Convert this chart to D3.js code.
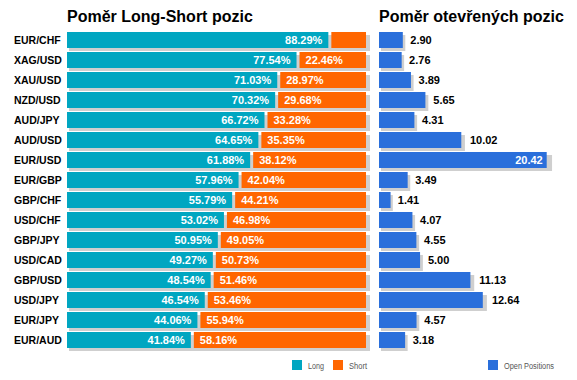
<!DOCTYPE html>
<html>
<head>
<meta charset="utf-8">
<script src="https://cdn.jsdelivr.net/npm/d3@7"></script>
<style>
  body { margin: 0; background: #fff; }
  svg { display: block; font-family: Arial, "Liberation Sans", sans-serif; }
</style>
</head>
<body>
<svg id="chart" width="577" height="380"></svg>
<script>
const pairs = ["EUR/CHF","XAG/USD","XAU/USD","NZD/USD","AUD/JPY","AUD/USD","EUR/USD","EUR/GBP","GBP/CHF","USD/CHF","GBP/JPY","USD/CAD","GBP/USD","USD/JPY","EUR/JPY","EUR/AUD"];
const longPct = [88.29,77.54,71.03,70.32,66.72,64.65,61.88,57.96,55.79,53.02,50.95,49.27,48.54,46.54,44.06,41.84];
const shortPct = [11.71,22.46,28.97,29.68,33.28,35.35,38.12,42.04,44.21,46.98,49.05,50.73,51.46,53.46,55.94,58.16];
const openPos = [2.90,2.76,3.89,5.65,4.31,10.02,20.42,3.49,1.41,4.07,4.55,5.00,11.13,12.64,4.57,3.18];
const legendLeft = ["Long","Short"];
const legendRight = ["Open Positions"];

const C_LONG = "#00A6C1", C_SHORT = "#FF6600", C_OPEN = "#2A6FDB", C_SHADOW = "#CFCFCF";

const svg = d3.select("#chart");

const y = d3.scaleBand().domain(pairs).range([30, 350]).paddingInner(0.2).paddingOuter(0.1);
const bh = y.bandwidth();
const xL = d3.scaleLinear().domain([0, 100]).range([0, 296]);
const x0L = 67, gap = 3;
const x0R = 379;
const xR = d3.scaleLinear().domain([0, 20.42]).range([0, 167.7]);

// Titles
svg.append("text").attr("x", x0L).attr("y", 22).attr("font-size", 16).attr("font-weight", "bold")
  .attr("fill", "#000").text("Poměr Long-Short pozic");
svg.append("text").attr("x", x0R).attr("y", 22).attr("font-size", 16).attr("font-weight", "bold")
  .attr("fill", "#000").text("Poměr otevřených pozic");

const rows = pairs.map((p, i) => ({ p, l: longPct[i], s: shortPct[i], o: openPos[i] }));

// Left shadows
svg.append("g").selectAll("rect").data(rows).join("rect")
  .attr("x", x0L + 2).attr("y", d => y(d.p) + 3)
  .attr("width", xL(100) + gap + 2).attr("height", bh)
  .attr("fill", C_SHADOW);

// long bars
svg.append("g").selectAll("rect").data(rows).join("rect")
  .attr("x", x0L).attr("y", d => y(d.p))
  .attr("width", d => xL(d.l)).attr("height", bh).attr("fill", C_LONG);
// short bars
svg.append("g").selectAll("rect").data(rows).join("rect")
  .attr("x", d => x0L + xL(d.l) + gap).attr("y", d => y(d.p))
  .attr("width", d => xL(d.s)).attr("height", bh).attr("fill", C_SHORT);

// category labels
svg.append("g").selectAll("text").data(rows).join("text")
  .attr("x", 14).attr("y", d => y(d.p) + bh / 2 + 4)
  .attr("font-size", 10.5).attr("font-weight", "bold").attr("fill", "#000")
  .text(d => d.p);

// long labels
svg.append("g").selectAll("text").data(rows).join("text")
  .attr("x", d => x0L + xL(d.l) - 6).attr("y", d => y(d.p) + bh / 2 + 4)
  .attr("text-anchor", "end").attr("font-size", 11).attr("font-weight", "bold").attr("fill", "#fff")
  .text(d => d.l.toFixed(2) + "%");
// short labels
svg.append("g").selectAll("text").data(rows.filter(d => xL(d.s) > 45)).join("text")
  .attr("x", d => x0L + xL(d.l) + gap + 6).attr("y", d => y(d.p) + bh / 2 + 4)
  .attr("font-size", 11).attr("font-weight", "bold").attr("fill", "#fff")
  .text(d => d.s.toFixed(2) + "%");

// Right shadows
svg.append("g").selectAll("rect").data(rows).join("rect")
  .attr("x", x0R + 2).attr("y", d => y(d.p) + 3)
  .attr("width", d => xR(d.o) * 1.02).attr("height", bh).attr("fill", C_SHADOW);
svg.append("g").selectAll("rect").data(rows).join("rect")
  .attr("x", x0R).attr("y", d => y(d.p))
  .attr("width", d => xR(d.o)).attr("height", bh).attr("fill", C_OPEN);

svg.append("g").selectAll("text").data(rows).join("text")
  .each(function(d) {
    const end = x0R + xR(d.o);
    const inside = end + 40 > 560;
    d3.select(this)
      .attr("x", inside ? end - 4 : x0R + 2 + xR(d.o) * 1.02 + 5)
      .attr("text-anchor", inside ? "end" : "start")
      .attr("fill", inside ? "#fff" : "#000");
  })
  .attr("y", d => y(d.p) + bh / 2 + 4)
  .attr("font-size", 11).attr("font-weight", "bold")
  .text(d => d.o.toFixed(2));

// Legends
const lg = [
  { t: legendLeft[0], c: C_LONG, x: 292, w: 16 },
  { t: legendLeft[1], c: C_SHORT, x: 333, w: 18 },
  { t: legendRight[0], c: C_OPEN, x: 488, w: 50 }
];
const g = svg.append("g");
g.selectAll("rect").data(lg).join("rect")
  .attr("x", d => d.x).attr("y", 360).attr("width", 10).attr("height", 10).attr("fill", d => d.c);
g.selectAll("text").data(lg).join("text")
  .attr("x", d => d.x + 16).attr("y", 368.5)
  .attr("font-size", 8.5).attr("fill", "#555")
  .attr("textLength", d => d.w).attr("lengthAdjust", "spacingAndGlyphs")
  .text(d => d.t);
</script>
</body>
</html>
